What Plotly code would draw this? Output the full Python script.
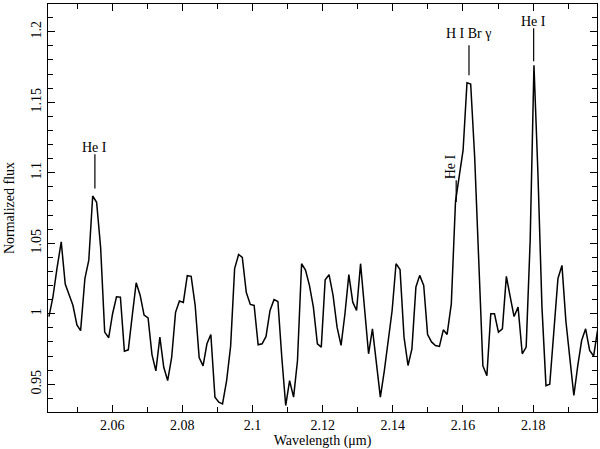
import plotly.graph_objects as go

wavelength = [
    2.04197, 2.04311, 2.04425, 2.04547, 2.04661, 2.04775, 2.04880, 2.04994, 2.05100, 2.05222,
    2.05333, 2.05444, 2.05556, 2.05670, 2.05786, 2.05900, 2.06011, 2.06123, 2.06234, 2.06348,
    2.06459, 2.06573, 2.06684, 2.06798, 2.06909, 2.07023, 2.07134, 2.07245, 2.07359, 2.07470,
    2.07581, 2.07695, 2.07806, 2.07917, 2.08028, 2.08140, 2.08251, 2.08365, 2.08479, 2.08590,
    2.08701, 2.08812, 2.08929, 2.09040, 2.09145, 2.09262, 2.09376, 2.09490, 2.09604, 2.09709,
    2.09823, 2.09937, 2.10046, 2.10160, 2.10274, 2.10385, 2.10499, 2.10613, 2.10724, 2.10835,
    2.10946, 2.11057, 2.11171, 2.11282, 2.11399, 2.11510, 2.11624, 2.11735, 2.11849, 2.11960,
    2.12071, 2.12182, 2.12296, 2.12410, 2.12524, 2.12635, 2.12746, 2.12858, 2.12966, 2.13080,
    2.13194, 2.13308, 2.13419, 2.13533, 2.13644, 2.13758, 2.13872, 2.13980, 2.14091, 2.14205,
    2.14319, 2.14433, 2.14544, 2.14658, 2.14766, 2.14880, 2.14991, 2.15103, 2.15214, 2.15328,
    2.15439, 2.15547, 2.15667, 2.15786, 2.15895, 2.16003, 2.16114, 2.16219, 2.16333, 2.16447,
    2.16567, 2.16681, 2.16792, 2.16897, 2.17011, 2.17123, 2.17236, 2.17348, 2.17456, 2.17570,
    2.17689, 2.17801, 2.17915, 2.18023, 2.18137, 2.18251, 2.18365, 2.18473, 2.18590, 2.18707,
    2.18821, 2.18932, 2.19048, 2.19160, 2.19271, 2.19382, 2.19496, 2.19610, 2.19724, 2.19835,
]

flux = [
    0.998, 1.012, 1.032, 1.051, 1.021, 1.013, 1.006, 0.992, 0.988, 1.025,
    1.038, 1.0835, 1.079, 1.047, 0.987, 0.983, 1.000, 1.012, 1.0118, 0.9734,
    0.9744, 0.999, 1.022, 1.013, 0.999, 0.997, 0.971, 0.9595, 0.9834, 0.962,
    0.9526, 0.969, 1.001, 1.009, 1.008, 1.027, 1.0265, 1.006, 0.969, 0.963,
    0.9787, 0.9853, 0.9408, 0.9372, 0.936, 0.9526, 0.977, 1.032, 1.042, 1.040,
    1.015, 1.0066, 1.0059, 0.978, 0.9787, 0.9839, 1.0023, 1.010, 1.0087, 0.969,
    0.9349, 0.9526, 0.9408, 0.9668, 1.0355, 1.031, 1.020, 1.0047, 0.9787, 0.9763,
    1.0241, 1.0277, 1.013, 0.9905, 0.9775, 1.000, 1.0277, 1.0082, 1.0023, 1.0355,
    1.0023, 0.9716, 0.9893, 0.9668, 0.9408, 0.9597, 0.981, 1.0023, 1.0355, 1.0313,
    0.9834, 0.9633, 0.9751, 1.019, 1.0272, 1.020, 0.9852, 0.980, 0.9775, 0.9768,
    0.9886, 0.9853, 1.007, 1.0795, 1.098, 1.116, 1.1638, 1.163, 1.111, 1.033,
    0.963, 0.956, 1.000, 1.000, 0.987, 0.9893, 1.0265, 1.0118, 0.998, 1.0047,
    0.9716, 0.9763, 1.052, 1.1763, 1.099, 1.0047, 0.949, 0.950, 0.990, 1.025,
    1.0343, 0.995, 0.968, 0.942, 0.963, 0.981, 0.9893, 0.974, 0.970, 0.988,
]

# line identifications: label, wavelength, tick bottom, tick top, label y
line_labels = ["He I", "H I Br γ", "He I"]
line_wl = [2.05507, 2.16171, 2.18014]
line_tick_lo = [1.0889, 1.1691, 1.1791]
line_tick_hi = [1.1131, 1.1904, 1.2025]
line_text_y = [1.1180, 1.1990, 1.2074]

# rotated label for the weak He I line
rot_label = "He I"
rot_wl = 2.15806
rot_tick_lo = 1.0792
rot_tick_hi = 1.0946
rot_text_x = 2.15655
rot_text_y = 1.1045

FONT = "Liberation Serif, Times New Roman, serif"

fig = go.Figure()
fig.add_trace(go.Scatter(x=wavelength, y=flux, mode="lines",
                         line=dict(color="black", width=1.5), showlegend=False,
                         hoverinfo="skip"))

shapes = []
annotations = []
for lab, wl, lo, hi, ty in zip(line_labels, line_wl, line_tick_lo, line_tick_hi, line_text_y):
    shapes.append(dict(type="line", xref="x", yref="y", x0=wl, x1=wl, y0=lo, y1=hi,
                       line=dict(color="black", width=1.2)))
    annotations.append(dict(x=wl, y=ty, xref="x", yref="y", text=lab, showarrow=False,
                            xanchor="center", yanchor="middle",
                            font=dict(family=FONT, size=14, color="black")))
shapes.append(dict(type="line", xref="x", yref="y", x0=rot_wl, x1=rot_wl,
                   y0=rot_tick_lo, y1=rot_tick_hi, line=dict(color="black", width=1.2)))
annotations.append(dict(x=rot_text_x, y=rot_text_y, xref="x", yref="y", text=rot_label,
                        showarrow=False, textangle=-90, xanchor="center", yanchor="middle",
                        font=dict(family=FONT, size=14, color="black")))

axis_common = dict(showline=True, linecolor="black", linewidth=1, mirror="allticks",
                   ticks="inside", ticklen=7, tickwidth=1, tickcolor="black",
                   showgrid=False, zeroline=False, automargin=False,
                   tickfont=dict(family=FONT, size=14, color="black"))

fig.update_layout(
    width=600, height=449,
    margin=dict(l=48, r=3, t=4, b=37),
    paper_bgcolor="white", plot_bgcolor="white",
    font=dict(family=FONT, size=14, color="black"),
    shapes=shapes, annotations=annotations,
    xaxis=dict(range=[2.0417, 2.1982], tick0=2.0, dtick=0.02,
               minor=dict(dtick=0.01, ticks="inside", ticklen=5, tickcolor="black"),
               title=dict(text="Wavelength (μm)", standoff=4,
                          font=dict(family=FONT, size=14, color="black")),
               **axis_common),
    yaxis=dict(range=[0.9303, 1.2197], tick0=0.95, dtick=0.05, tickangle=-90,
               minor=dict(dtick=0.01, ticks="inside", ticklen=5, tickcolor="black"),
               title=dict(text="Normalized flux", standoff=11,
                          font=dict(family=FONT, size=14, color="black")),
               **axis_common),
)

fig.write_html("out.html", config={"displayModeBar": False, "staticPlot": True},
               post_script="document.body.style.margin='0';document.body.style.overflow='hidden';")
